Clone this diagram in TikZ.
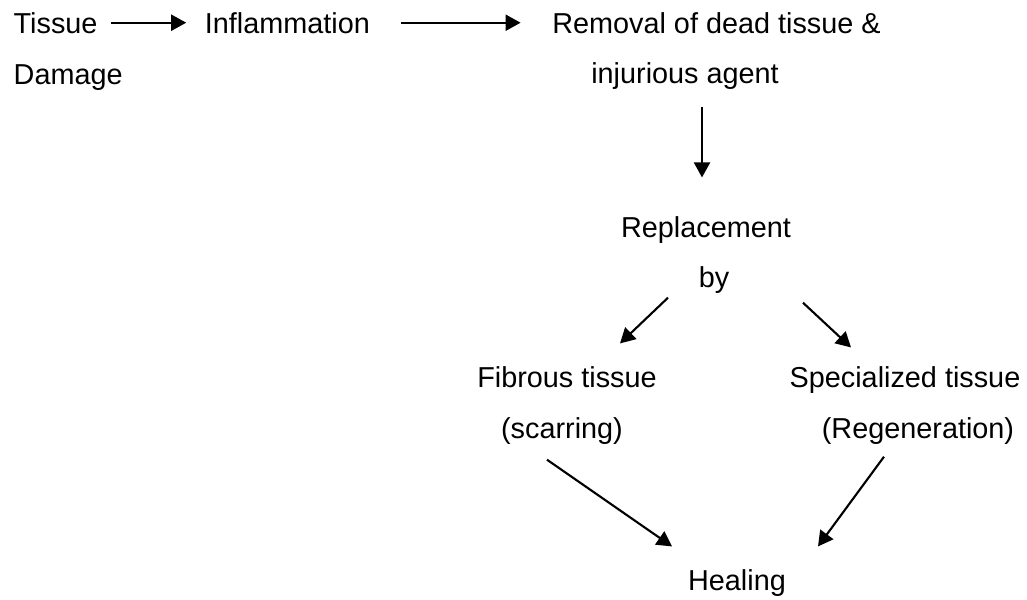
\documentclass[tikz,border=0pt]{standalone}
\usepackage{fontspec}
\setmainfont{Liberation Sans}
\usepackage{tikz}
\usetikzlibrary{arrows.meta,positioning,calc}

\begin{document}
\begin{tikzpicture}[
    lbl/.style={inner sep=0pt, font=\fontsize{8.2}{10}\selectfont},
    arr/.style={-{Triangle[length=0.15cm,width=0.16cm]}, line width=0.6pt}]
    \useasboundingbox (0,0) rectangle (10.27,-5.99);
    % top row
    \node [lbl, anchor=base west] (tissue) at (0.13,-0.33) {Tissue};
    \node [lbl, below=0.51cm of tissue.base west, anchor=base west] (damage) {Damage};
    \node [lbl, right=1.06cm of tissue.base east, anchor=base west] (inflam) {Inflammation};
    \node [lbl, right=1.81cm of inflam.base east, anchor=base west] (removal) {Removal of dead tissue \&};
    \node [lbl, below=0.50cm of removal.base west, anchor=base west, xshift=0.39cm] (agent) {injurious agent};
    % replacement
    \node [lbl, anchor=base] (replace) at (7.06,-2.37) {Replacement};
    \node [lbl, below=0.50cm of replace.base, anchor=base, xshift=0.08cm] (by) {by};
    % two kinds of tissue
    \node [lbl, anchor=base] (fibrous) at (5.67,-3.87) {Fibrous tissue};
    \node [lbl, below=0.51cm of fibrous.base, anchor=base, xshift=-0.05cm] (scarring) {(scarring)};
    \node [lbl, anchor=base] (special) at (9.05,-3.87) {Specialized tissue};
    \node [lbl, below=0.51cm of special.base, anchor=base, xshift=0.13cm] (regen) {(Regeneration)};
    \node [lbl, anchor=base] (healing) at (7.37,-5.90) {Healing};

    \draw [arr, shorten <=0.13cm, shorten >=0.18cm] (tissue.east) -- (inflam.west);
    \draw [arr, shorten <=0.30cm, shorten >=0.31cm] (inflam.east) -- (removal.west);
    \draw [arr] ($(agent.south -| replace.north)+(-0.04,-0.17)$) -- ($(replace.north)+(-0.04,0.38)$);
    \draw [arr] ($(by.south)+(-0.46,-0.04)$) -- ($(fibrous.north)+(0.53,0.22)$);
    \draw [arr] ($(by.south)+(0.89,-0.09)$) -- ($(special.north)+(-0.54,0.18)$);
    \draw [arr] ($(scarring.south)+(-0.15,-0.15)$) -- ($(healing.north)+(-0.65,0.22)$);
    \draw [arr] ($(regen.south)+(-0.34,-0.12)$) -- ($(healing.north)+(0.81,0.22)$);
\end{tikzpicture}
\end{document}
